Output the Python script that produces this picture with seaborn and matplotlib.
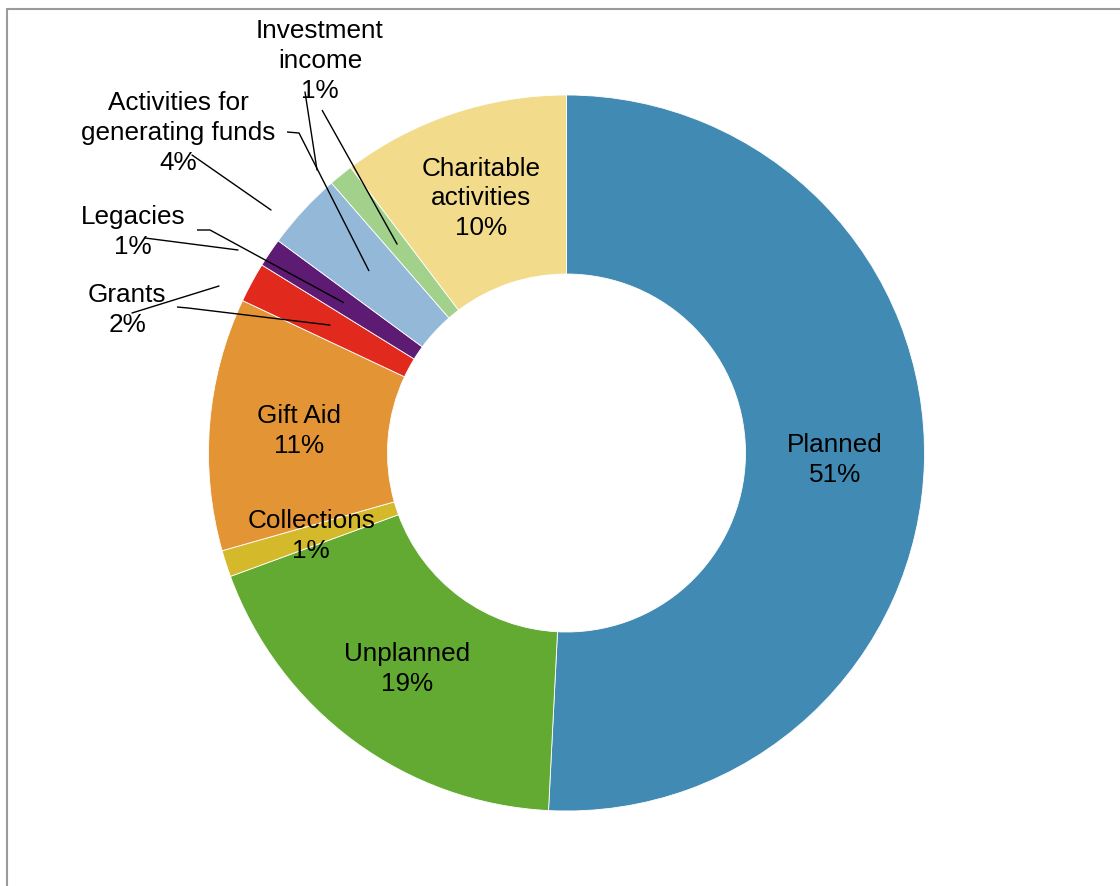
import numpy as np
import matplotlib
matplotlib.use('Agg')
import matplotlib.pyplot as plt
from matplotlib.lines import Line2D
import seaborn as sns

# data, clockwise from 12 o'clock
categories = ['Planned', 'Unplanned', 'Collections', 'Gift Aid', 'Grants',
              'Legacies', 'Activities for\ngenerating funds', 'Investment\nincome',
              'Charitable\nactivities']
shares = [50.8, 18.6, 1.2, 11.4, 1.8, 1.3, 3.5, 1.1, 10.3]
colours = ['#418AB3', '#62AA32', '#D4B92B', '#E39434', '#E1291E',
           '#5E1B74', '#94B8D8', '#A2D18C', '#F2DC8C']

# labels that sit outside the ring: text centre, elbow start, elbow end (pixels)
outside = {
    'Investment\nincome': ((320, 61), (322, 110), None),
    'Activities for\ngenerating funds': ((178, 133), (287, 132), (299, 133)),
    'Legacies': ((133, 232), (197, 230), (210, 230)),
    'Grants': ((127, 310), (177, 307), (188, 308)),
}
# stray connector lines left over in the original
stray = [((305, 92), (317, 170)), ((192, 155), (271, 210)),
         ((145, 238), (238, 250)), ((132, 313), (219, 286))]

W, H = 1120, 886
CX, CY, R = 566.5, 453, 358


def px(x, y):
    return (x - CX) / R, (CY - y) / R


sns.set_style('white')
plt.rcParams['font.family'] = ['Liberation Sans', 'DejaVu Sans']
txt = dict(ha='center', va='center', fontsize=18.8, color='black', linespacing=1.3)

fig = plt.figure(figsize=(W / 100, H / 100), dpi=100)
ax = fig.add_axes([0, 0, 1, 1])

wedges, _ = ax.pie(shares, colors=colours, startangle=90, counterclock=False,
                   radius=1, wedgeprops=dict(width=0.5, edgecolor='white', linewidth=0.6))

for w, name, val in zip(wedges, categories, shares):
    mid = np.deg2rad((w.theta1 + w.theta2) / 2)
    anchor = (0.75 * np.cos(mid), 0.75 * np.sin(mid))
    text = f'{name}\n{int(val + 0.5)}%'
    if name in outside:
        pos, a, b = outside[name]
        ax.text(*px(*pos), text, **txt)
        pts = [px(*a)] + ([px(*b)] if b else []) + [anchor]
        xs, ys = zip(*pts)
        ax.plot(xs, ys, color='black', lw=1.0, solid_capstyle='butt')
    else:
        ax.text(*anchor, text, **txt)

for a, b in stray:
    xs, ys = zip(px(*a), px(*b))
    ax.plot(xs, ys, color='black', lw=1.0)

ax.set_xlim(px(0, 0)[0], px(W, 0)[0])
ax.set_ylim(px(0, H)[1], px(0, 0)[1])
ax.set_aspect('equal')
ax.axis('off')

# chart area border (top and left edges visible)
fig.add_artist(Line2D([7 / W, 1], [1 - 9 / H, 1 - 9 / H], color='#9A9A9A', lw=1.5))
fig.add_artist(Line2D([7 / W, 7 / W], [0, 1 - 9 / H], color='#9A9A9A', lw=1.5))

fig.savefig('out.png', dpi=100, facecolor='white')
